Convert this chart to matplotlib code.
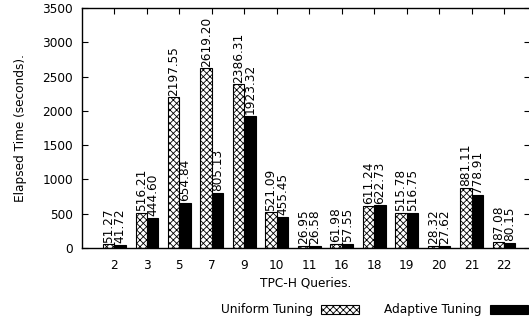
import matplotlib
matplotlib.use("Agg")
import matplotlib.pyplot as plt
import numpy as np

queries = ["2", "3", "5", "7", "9", "10", "11", "16", "18", "19", "20", "21", "22"]
uniform = [51.27, 516.21, 2197.55, 2619.20, 2386.31, 521.09, 26.95, 61.98, 611.24, 515.78, 28.32, 881.11, 87.08]
adaptive = [41.72, 444.60, 654.84, 805.13, 1923.32, 455.45, 26.58, 57.55, 622.73, 516.75, 27.62, 778.91, 80.15]

plt.rcParams['font.family'] = ['DejaVu Sans']
plt.rcParams['hatch.linewidth'] = 0.6

FS = 8.7
fig = plt.figure(figsize=(5.29, 3.19), dpi=100)
W, H = 529, 319
ax = fig.add_axes([82 / W, 1 - 248 / H, (530 - 82) / W, (248 - 8) / H])

x = np.arange(len(queries))
bw = 0.35
b1 = ax.bar(x - bw / 2, uniform, bw, facecolor='white', edgecolor='black', hatch='xxxxx',
            linewidth=0.8, label='Uniform Tuning')
b2 = ax.bar(x + bw / 2, adaptive, bw, facecolor='black', edgecolor='black',
            linewidth=0.8, label='Adaptive Tuning')

for xi, v in zip(x - bw / 2, uniform):
    ax.text(xi, v + 25, f"{v:.2f}", rotation=90, ha='center', va='bottom', fontsize=FS)
for xi, v in zip(x + bw / 2, adaptive):
    ax.text(xi, v + 25, f"{v:.2f}", rotation=90, ha='center', va='bottom', fontsize=FS)

ax.set_xlim(-1, 12.8)
ax.set_ylim(0, 3500)
ax.set_yticks(range(0, 3501, 500))
ax.set_xticks(x)
ax.set_xticklabels(queries)
ax.tick_params(axis='both', direction='in', labelsize=FS, length=4, width=0.8,
               top=True, right=True)
ax.tick_params(axis='x', pad=8)
ax.tick_params(axis='y', pad=6.5)
for s in ax.spines.values():
    s.set_linewidth(1.0)

ax.set_ylabel('Elapsed Time (seconds).', fontsize=FS, labelpad=11)
ax.set_xlabel('TPC-H Queries.', fontsize=FS, labelpad=3)

leg = fig.legend(handles=[b1, b2], loc='center', bbox_to_anchor=(374.5 / W, 1 - 310 / H),
                 ncol=2, markerfirst=False, frameon=False, fontsize=FS,
                 handlelength=3.15, handleheight=0.83, columnspacing=2.05, handletextpad=0.66,
                 borderaxespad=0, borderpad=0)

fig.savefig('out.png', dpi=100)
